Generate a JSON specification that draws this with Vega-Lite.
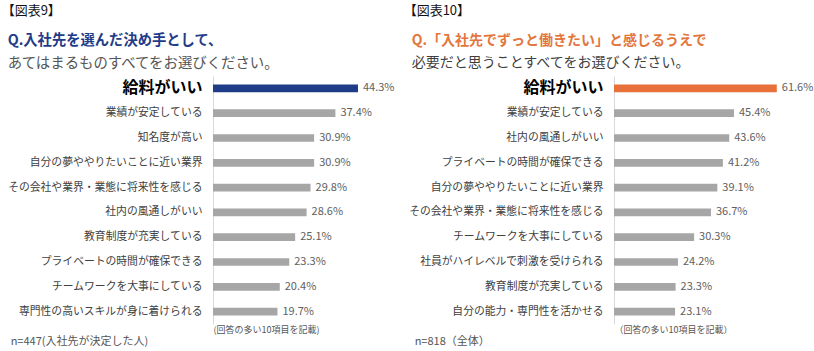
{
  "$schema": "https://vega.github.io/schema/vega-lite/v6.json",
  "padding": {"left": 1, "top": 5, "right": 0, "bottom": 0},
  "datasets": {
    "fig9": [
      {"item": "給料がいい", "pct": 0.443},
      {"item": "業績が安定している", "pct": 0.374},
      {"item": "知名度が高い", "pct": 0.309},
      {"item": "自分の夢ややりたいことに近い業界", "pct": 0.309},
      {"item": "その会社や業界・業態に将来性を感じる", "pct": 0.298},
      {"item": "社内の風通しがいい", "pct": 0.286},
      {"item": "教育制度が充実している", "pct": 0.251},
      {"item": "プライベートの時間が確保できる", "pct": 0.233},
      {"item": "チームワークを大事にしている", "pct": 0.204},
      {"item": "専門性の高いスキルが身に着けられる", "pct": 0.197}
    ],
    "fig10": [
      {"item": "給料がいい", "pct": 0.616},
      {"item": "業績が安定している", "pct": 0.454},
      {"item": "社内の風通しがいい", "pct": 0.436},
      {"item": "プライベートの時間が確保できる", "pct": 0.412},
      {"item": "自分の夢ややりたいことに近い業界", "pct": 0.391},
      {"item": "その会社や業界・業態に将来性を感じる", "pct": 0.367},
      {"item": "チームワークを大事にしている", "pct": 0.303},
      {"item": "社員がハイレベルで刺激を受けられる", "pct": 0.242},
      {"item": "教育制度が充実している", "pct": 0.233},
      {"item": "自分の能力・専門性を活かせる", "pct": 0.231}
    ]
  },
  "spacing": 8,
  "hconcat": [
    {
      "title": {"text": "【図表9】", "anchor": "start", "frame": "bounds", "fontSize": 13, "fontWeight": "normal", "color": "#111111", "dx": -6, "offset": 16},
      "vconcat": [
        {
          "title": {"text": "n=447(入社先が決定した人)", "orient": "bottom", "anchor": "start", "frame": "bounds", "fontSize": 11, "fontWeight": "normal", "color": "#555555", "dx": 3, "offset": 2},
          "vconcat": [
            {
              "width": 180,
              "height": 248,
              "data": {"name": "fig9"},
              "title": {"text": "Q.入社先を選んだ決め手として、", "subtitle": "あてはまるものすべてをお選びください。", "anchor": "start", "frame": "bounds", "fontSize": 14.3, "fontWeight": "bold", "color": "#1F3C88", "subtitleFontSize": 14.4, "subtitleColor": "#555555", "subtitlePadding": 8, "offset": 6},
              "encoding": {
                "y": {"field": "item", "type": "nominal", "sort": null,
                  "scale": {"paddingInner": 0.69, "paddingOuter": 0.345},
                  "axis": {"title": null, "ticks": false, "domainColor": "#D9D9D9", "labelPadding": 11, "labelLimit": 400,
                    "labelFontSize": {"expr": "datum.value === '給料がいい' ? 16 : 10.8"},
                    "labelFontWeight": {"expr": "datum.value === '給料がいい' ? 'bold' : 'normal'"},
                    "labelColor": {"expr": "datum.value === '給料がいい' ? '#000000' : '#404040'"}}},
                "x": {"field": "pct", "type": "quantitative", "scale": {"domain": [0, 0.55]},
                  "axis": {"labels": false, "ticks": false, "domain": false, "grid": false, "title": "(回答の多い10項目を記載)", "titleAnchor": "start", "titleFontSize": 9, "titleFontWeight": "normal", "titleColor": "#555555", "titlePadding": 1}}
              },
              "layer": [
                {"mark": {"type": "bar"},
                 "encoding": {"color": {"condition": {"test": "datum.item === '給料がいい'", "value": "#1F3C88"}, "value": "#A6A6A6"}}},
                {"mark": {"type": "text", "align": "left", "dx": 5, "fontSize": 11, "color": "#606060"},
                 "encoding": {"text": {"field": "pct", "type": "quantitative", "format": ".1%"}}}
              ]
            }
          ]
        }
      ]
    },
    {
      "title": {"text": "【図表10】", "anchor": "start", "frame": "bounds", "fontSize": 13, "fontWeight": "normal", "color": "#111111", "dx": -5, "offset": 16},
      "vconcat": [
        {
          "title": {"text": "n=818（全体）", "orient": "bottom", "anchor": "start", "frame": "bounds", "fontSize": 11, "fontWeight": "normal", "color": "#555555", "dx": 6, "offset": 2},
          "vconcat": [
            {
              "width": 185,
              "height": 248,
              "data": {"name": "fig10"},
              "title": {"text": "Q.「入社先でずっと働きたい」と感じるうえで", "subtitle": "必要だと思うことすべてをお選びください。", "anchor": "start", "frame": "bounds", "fontSize": 14, "fontWeight": "bold", "color": "#E2763C", "subtitleFontSize": 14, "subtitleColor": "#404040", "subtitlePadding": 8, "offset": 6, "dx": 3},
              "encoding": {
                "y": {"field": "item", "type": "nominal", "sort": null,
                  "scale": {"paddingInner": 0.69, "paddingOuter": 0.345},
                  "axis": {"title": null, "ticks": false, "domainColor": "#D9D9D9", "labelPadding": 11, "labelLimit": 400,
                    "labelFontSize": {"expr": "datum.value === '給料がいい' ? 16 : 10.8"},
                    "labelFontWeight": {"expr": "datum.value === '給料がいい' ? 'bold' : 'normal'"},
                    "labelColor": {"expr": "datum.value === '給料がいい' ? '#000000' : '#404040'"}}},
                "x": {"field": "pct", "type": "quantitative", "scale": {"domain": [0, 0.7]},
                  "axis": {"labels": false, "ticks": false, "domain": false, "grid": false, "title": "（回答の多い10項目を記載）", "titleAnchor": "start", "titleFontSize": 9, "titleFontWeight": "normal", "titleColor": "#555555", "titlePadding": 1}}
              },
              "layer": [
                {"mark": {"type": "bar"},
                 "encoding": {"color": {"condition": {"test": "datum.item === '給料がいい'", "value": "#E8703A"}, "value": "#A6A6A6"}}},
                {"mark": {"type": "text", "align": "left", "dx": 5, "fontSize": 11, "color": "#606060"},
                 "encoding": {"text": {"field": "pct", "type": "quantitative", "format": ".1%"}}}
              ]
            }
          ]
        }
      ]
    }
  ],
  "config": {
    "font": "Noto Sans CJK JP",
    "view": {"stroke": null},
    "concat": {"spacing": 0}
  }
}
